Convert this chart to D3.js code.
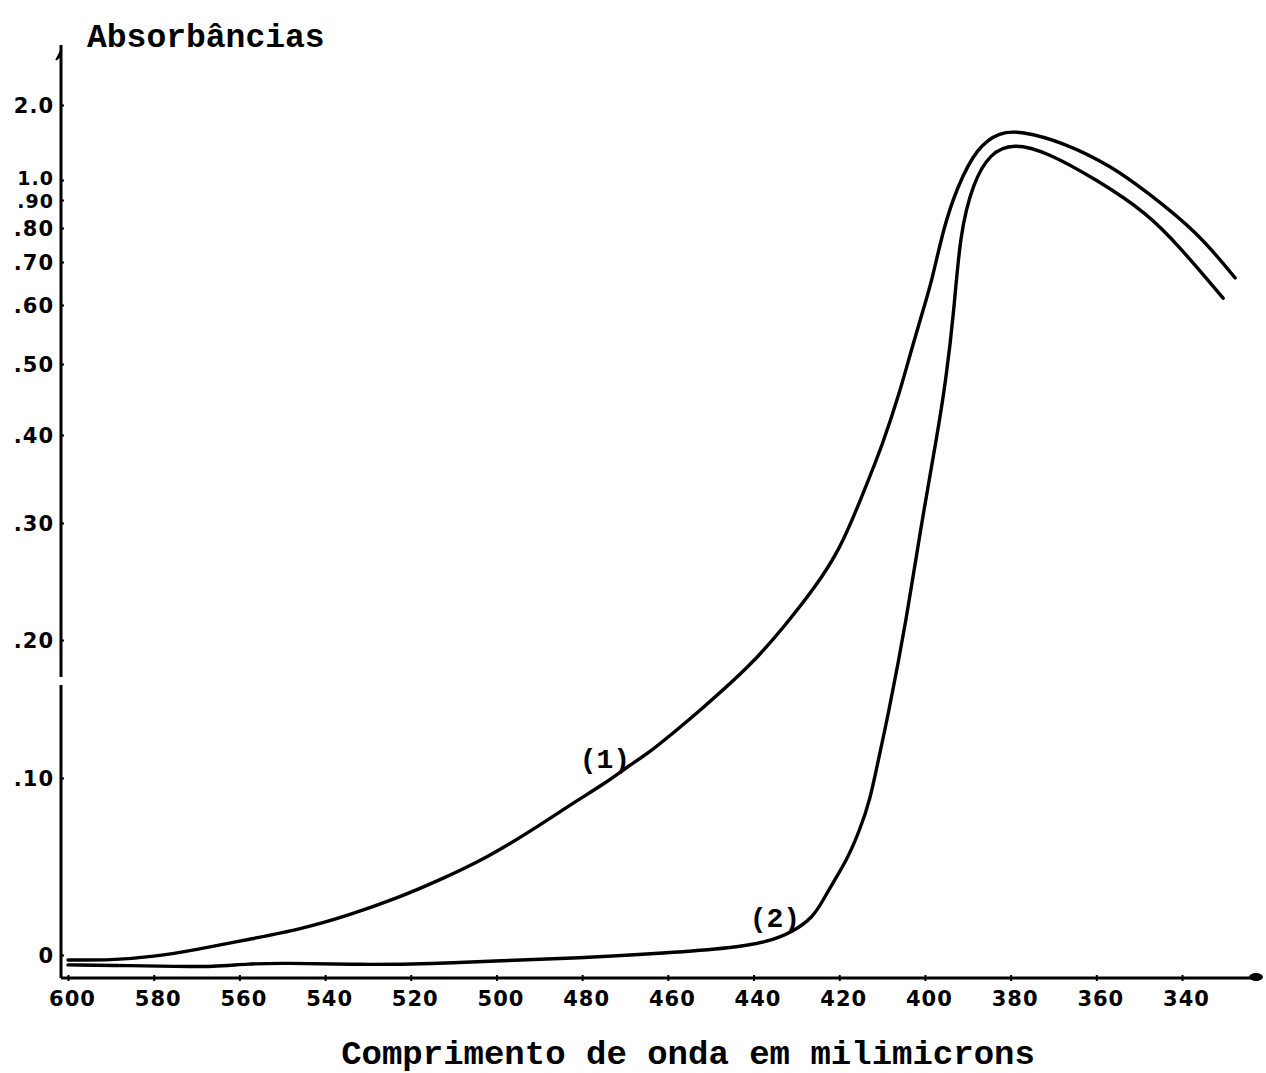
<!DOCTYPE html>
<html lang="pt">
<head>
  <meta charset="UTF-8">
  <title>Absorbâncias</title>
  <script src="https://d3js.org/d3.v7.min.js"></script>
  <style>
    body { margin: 0; padding: 0; background: #fff; }
    svg { display: block; }
    .typed { font-family: "Liberation Mono", "DejaVu Sans Mono", monospace; font-weight: bold; fill: #000; }
    .tick text { font-family: "DejaVu Sans", sans-serif; font-size: 21px; font-weight: bold; letter-spacing: 1px; fill: #000; }
  </style>
</head>
<body>
  <script>
    // wavelength axis (milimicrons)
    const xTicks = [600, 580, 560, 540, 520, 500, 480, 460, 440, 420, 400, 380, 360, 340];

    // absorbance axis, irregular hand drawn scale
    const yTicks = [0, 0.1, 0.2, 0.3, 0.4, 0.5, 0.6, 0.7, 0.8, 0.9, 1.0, 2.0];
    const yTickLabels = ["0", ".10", ".20", ".30", ".40", ".50", ".60", ".70", ".80", ".90", "1.0", "2.0"];

    // curve (1)
    const wl1 = [600, 590, 580, 570, 557.5, 545.8, 534.2, 522.5, 514.8, 502.2, 489.8, 482.1,
                 474.2, 469.5, 464.2, 458.8, 452.9, 440.1, 432.2, 426.1, 419.8, 414.4, 409.8, 405.8,
                 403.5, 401.1, 398.3, 395.8, 392.5, 387.8, 382.5, 377.8, 367.8, 356.1, 348.2, 336.5,
                 327.6];
    const abs1 = [-0.0028, -0.003, -0.001, 0.003, 0.009, 0.0145, 0.0226, 0.0328, 0.0407, 0.0548, 0.0734, 0.0859,
                  0.0977, 0.108, 0.1188, 0.1326, 0.1478, 0.183, 0.2145, 0.2427, 0.277, 0.334, 0.39, 0.462,
                  0.515, 0.575, 0.658, 0.794, 0.965, 1.44, 1.64, 1.653, 1.507, 1.173, 0.94, 0.789,
                  0.663];

    // curve (2)
    const wl2 = [600, 585, 575, 566, 558, 549.8, 531.8, 515, 499.2, 481.2, 460.2, 444.8,
                 436.9, 430.8, 426.1, 424, 421.5, 418.2, 415.2, 412.8, 410.9, 408.6, 404.2, 401.2,
                 397.2, 395.1, 393.2, 391.8, 388.8, 384.8, 379.4, 371.5, 359.8, 348.2, 340.5, 330.4];
    const abs2 = [-0.0056, -0.006, -0.0065, -0.0066, -0.005, -0.0045, -0.0055, -0.005, -0.0032, -0.0018, 0.0011, 0.004,
                  0.0073, 0.013, 0.0215, 0.030, 0.0407, 0.0537, 0.0706, 0.0876, 0.113, 0.145, 0.2197, 0.2915,
                  0.398, 0.477, 0.59, 0.785, 0.985, 1.36, 1.493, 1.373, 1.0, 0.854, 0.744, 0.616];

    const width = 1266, height = 1073;

    const svg = d3.select("body").append("svg")
        .attr("width", width)
        .attr("height", height);

    const x = d3.scaleLinear().domain([600, 340]).range([68, 1182]);
    const y = d3.scaleLinear()
        .domain(yTicks)
        .range([955, 778, 640, 523, 435, 364, 305, 262, 228, 200, 180, 105]);

    const axisX = 61, axisY = 978;

    // x axis
    const gx = svg.append("g")
        .attr("transform", `translate(0,${axisY})`)
        .call(d3.axisBottom(x).tickValues(xTicks).tickSize(3).tickFormat(d3.format("d")));
    gx.select(".domain").remove();
    gx.selectAll(".tick line").attr("stroke", "#000").attr("stroke-width", 2).attr("y1", -3);
    gx.selectAll(".tick text").attr("dy", 0).attr("y", 28).attr("dx", 4);

    svg.append("line")
        .attr("x1", axisX).attr("x2", 1258)
        .attr("y1", axisY).attr("y2", axisY)
        .attr("stroke", "#000").attr("stroke-width", 3);
    svg.append("ellipse")
        .attr("cx", 1256).attr("cy", axisY - 1).attr("rx", 7).attr("ry", 4).attr("fill", "#000");

    // y axis
    const gy = svg.append("g")
        .attr("transform", `translate(${axisX},0)`)
        .call(d3.axisLeft(y).tickValues(yTicks).tickSize(3)
            .tickFormat((d, i) => yTickLabels[i]));
    gy.select(".domain").remove();
    gy.selectAll(".tick line").attr("stroke", "#000").attr("stroke-width", 2).attr("x2", 3);
    gy.selectAll(".tick text").attr("x", -7).attr("dy", "0.36em");
    // 1.0 and .90 sit very close on this scale, pull them apart a little
    gy.selectAll(".tick text")
        .filter(d => d === 1.0 || d === 0.9)
        .style("font-size", "19px")
        .attr("y", d => d === 1.0 ? -2 : 1);

    // axis line with the small break near .15
    svg.append("line")
        .attr("x1", axisX).attr("x2", axisX).attr("y1", 45).attr("y2", 677)
        .attr("stroke", "#000").attr("stroke-width", 3);
    svg.append("line")
        .attr("x1", axisX).attr("x2", axisX).attr("y1", 685).attr("y2", axisY)
        .attr("stroke", "#000").attr("stroke-width", 3);
    svg.append("path")
        .attr("d", `M${axisX},50 L${axisX - 5},60 L${axisX},56 Z`)
        .attr("fill", "#000").attr("stroke", "#000").attr("stroke-width", 1.5);

    // curves
    const line = d3.line()
        .x(d => x(d[0]))
        .y(d => y(d[1]))
        .curve(d3.curveBasis);

    [[wl1, abs1], [wl2, abs2]].forEach(([w, a]) => {
      svg.append("path")
          .datum(d3.zip(w, a))
          .attr("fill", "none")
          .attr("stroke", "#000")
          .attr("stroke-width", 3.4)
          .attr("stroke-linejoin", "round")
          .attr("stroke-linecap", "round")
          .attr("d", line);
    });

    // curve labels
    svg.append("text").attr("class", "typed")
        .attr("x", x(474.7)).attr("y", y(0.1) - 10)
        .attr("text-anchor", "middle").attr("font-size", 28).attr("font-weight", "normal")
        .text("(1)");
    svg.append("text").attr("class", "typed")
        .attr("x", x(435)).attr("y", y(0.016))
        .attr("text-anchor", "middle").attr("font-size", 28).attr("font-weight", "normal")
        .text("(2)");

    // titles
    svg.append("text").attr("class", "typed")
        .attr("x", 87).attr("y", 47)
        .attr("font-size", 33)
        .text("Absorbâncias");
    svg.append("text").attr("class", "typed")
        .attr("x", 688).attr("y", 1064)
        .attr("text-anchor", "middle")
        .attr("font-size", 34)
        .text("Comprimento de onda em milimicrons");
  </script>
</body>
</html>
